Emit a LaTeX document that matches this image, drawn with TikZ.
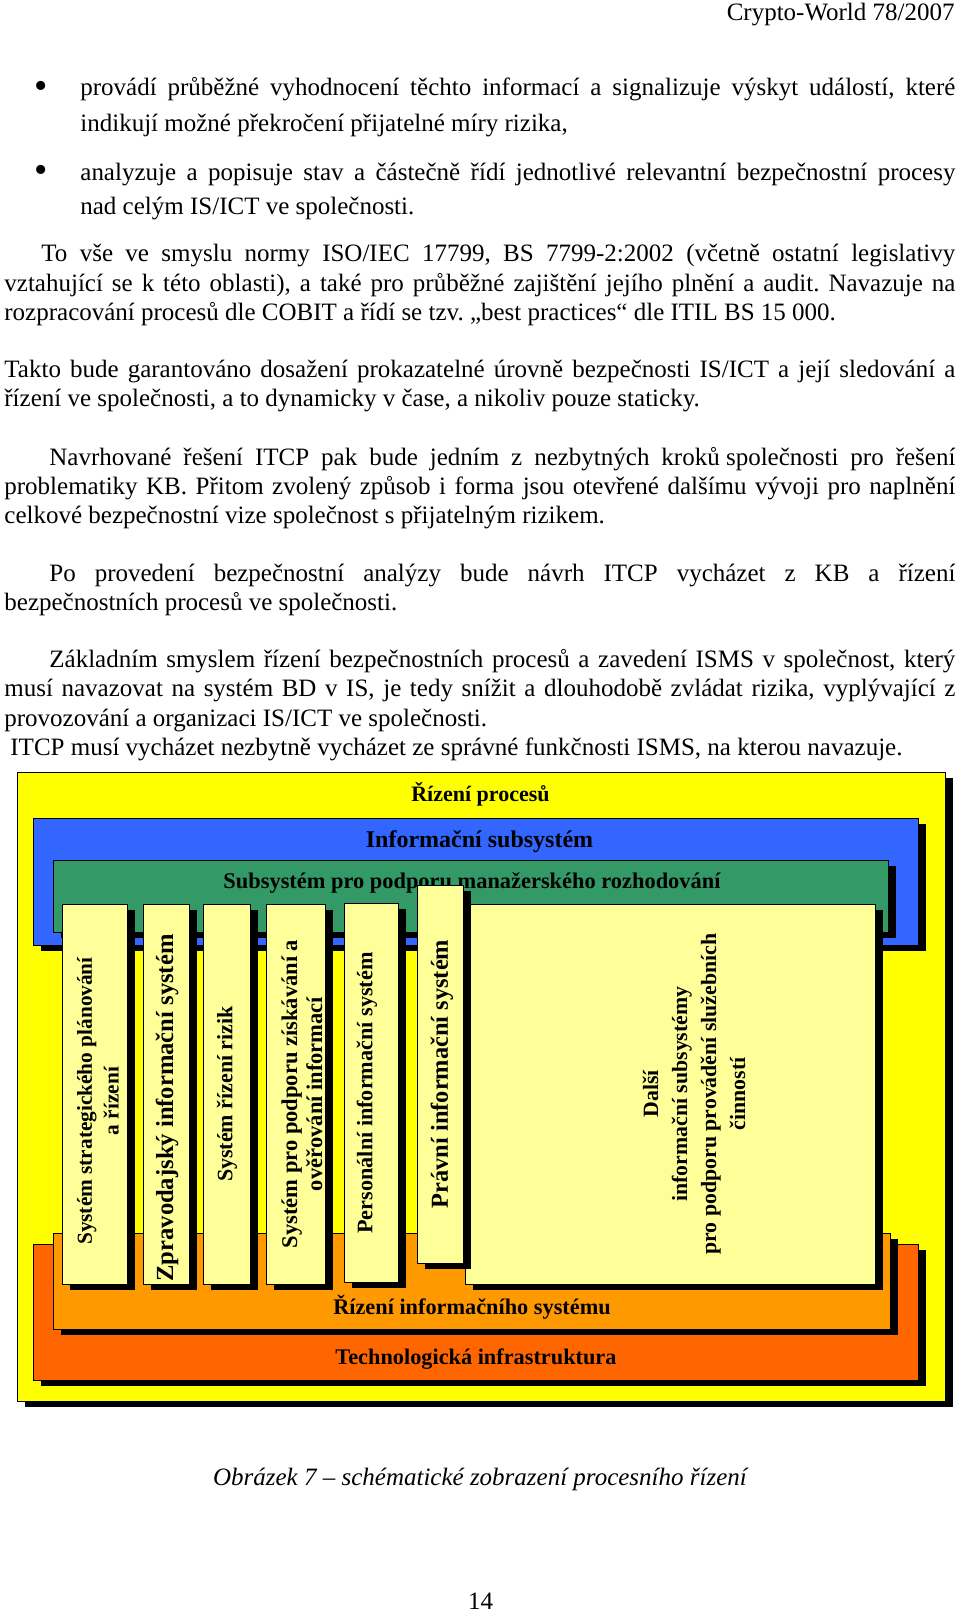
\documentclass[tikz,border=0pt]{standalone}
\usepackage{fontspec}
\setmainfont{Liberation Serif}
\usetikzlibrary{shadows}
\definecolor{cyel}{HTML}{FFFF00}
\definecolor{cblue}{HTML}{3366FF}
\definecolor{cgreen}{HTML}{339966}
\definecolor{clight}{HTML}{FFFF99}
\definecolor{corange}{HTML}{FF9900}
\definecolor{cdorange}{HTML}{FF6600}
\newcommand\jl[2]{\makebox[#1pt][s]{#2}}
\newcommand\bfs[2]{\fontsize{#1pt}{#2pt}\selectfont\bfseries}
\frenchspacing
\begin{document}
\begin{tikzpicture}[x=0.5pt,y=-0.5pt,
  txt/.style={anchor=base west, inner sep=0pt, font=\fontsize{12.5pt}{15pt}\selectfont},
  bul/.style={anchor=base, inner sep=0pt, font=\fontsize{19pt}{19pt}\selectfont},
  sbox/.style={draw=black, line width=0.5pt, inner sep=0pt, anchor=north west,
    drop shadow={shadow xshift=3.5pt, shadow yshift=-2.75pt, opacity=1, fill=black, draw=none}},
  lbl/.style={inner sep=0pt, align=center},
  vlbl/.style={inner sep=0pt, align=center, rotate=90}]
\path[use as bounding box, fill=white] (0,0) rectangle (960,1613);

% header
\node[txt, anchor=base east] (hdr) at (955,20) {Crypto-World 78/2007};

% bullets
\node[bul] (bu1) at (41,98) {\textbullet};
\node[txt] (l1) at (80,95.5) {\jl{437.5}{provádí průběžné vyhodnocení těchto informací a signalizuje výskyt událostí, které}};
\node[txt] (l2) at (80,131.5) {indikují možné překročení přijatelné míry rizika,};
\node[bul] (bu2) at (41,182.5) {\textbullet};
\node[txt] (l3) at (80,180) {\jl{437.5}{analyzuje a popisuje stav a částečně řídí jednotlivé relevantní bezpečnostní procesy}};
\node[txt] (l4) at (80,214) {nad celým IS/ICT ve společnosti.};

% paragraph 1
\node[txt] (p1a) at (41,261) {\jl{457}{To vše ve smyslu normy ISO/IEC 17799, BS 7799-2:2002 (včetně ostatní legislativy}};
\node[txt] (p1b) at (4,291) {\jl{475.5}{vztahující se k této oblasti), a také pro průběžné zajištění jejího plnění a audit. Navazuje na}};
\node[txt] (p1c) at (4,320) {rozpracování procesů dle COBIT a řídí se tzv. „best practices“ dle ITIL BS 15 000.};

% paragraph 2
\node[txt] (p2a) at (4,377.5) {\jl{475.5}{Takto bude garantováno dosažení prokazatelné úrovně bezpečnosti IS/ICT a její sledování a}};
\node[txt] (p2b) at (4,406) {řízení ve společnosti, a to dynamicky v čase, a nikoliv pouze staticky.};

% paragraph 3
\node[txt] (p3a) at (49,465) {\jl{453}{Navrhované řešení ITCP pak bude jedním z nezbytných kroků\hspace{0.25em}společnosti pro řešení}};
\node[txt] (p3b) at (4,494) {\jl{475.5}{problematiky KB. Přitom zvolený způsob i forma jsou otevřené dalšímu vývoji pro naplnění}};
\node[txt] (p3c) at (4,523.5) {celkové bezpečnostní vize společnost s přijatelným rizikem.};

% paragraph 4
\node[txt] (p4a) at (49,581) {\jl{453}{Po provedení bezpečnostní analýzy bude návrh ITCP vycházet z KB a řízení}};
\node[txt] (p4b) at (4,610) {bezpečnostních procesů ve společnosti.};

% paragraph 5
\node[txt] (p5a) at (49,667.5) {\jl{453}{Základním smyslem řízení bezpečnostních procesů a zavedení ISMS v společnost, který}};
\node[txt] (p5b) at (4,696) {\jl{475.5}{musí navazovat na systém BD v IS, je tedy snížit a dlouhodobě zvládat rizika, vyplývající z}};
\node[txt] (p5c) at (4,726) {provozování a organizaci IS/ICT ve společnosti.};
\node[txt] (p6) at (10,755) {ITCP musí vycházet nezbytně vycházet ze správné funkčnosti ISMS, na kterou navazuje.};

% diagram
\node[sbox, fill=cyel, minimum width=464pt, minimum height=314.5pt] (yel) at (17,772) {};
\node[lbl, font=\bfs{11}{13}] (tyel) at (480.5,794) {Řízení procesů};
\node[sbox, fill=cblue, minimum width=442.5pt, minimum height=63.5pt] (blu) at (33,818) {};
\node[lbl, font=\bfs{12}{14}] (tblu) at (479.5,842) {Informační subsystém};
\node[sbox, fill=cgreen, minimum width=417.5pt, minimum height=36pt] (grn) at (53,860) {};
\node[lbl, font=\bfs{11.2}{13}] (tgrn) at (472,883) {Subsystém pro podporu manažerského rozhodování};

\node[sbox, fill=cdorange, minimum width=442.5pt, minimum height=68pt] (dor) at (33,1244) {};
\node[lbl, font=\bfs{11.15}{13}] (tdor) at (476,1359) {Technologická infrastruktura};
\node[sbox, fill=corange, minimum width=418.5pt, minimum height=48pt] (ora) at (53,1233) {};
\node[lbl, font=\bfs{11.15}{13}] (tora) at (472,1307) {Řízení informačního systému};

% columns
\node[sbox, fill=clight, minimum width=32.5pt, minimum height=190pt] (c1) at (62,904) {};
\node[vlbl, font=\bfs{10.65}{13.4}] (c1t) at (98,1101) {Systém strategického plánování\\a řízení};
\node[sbox, fill=clight, minimum width=23pt, minimum height=190pt] (c2) at (143,904) {};
\node[vlbl, font=\bfs{12.3}{14}] (c2t) at (167,1108) {Zpravodajský informační systém};
\node[sbox, fill=clight, minimum width=23.5pt, minimum height=190pt] (c3) at (203,904) {};
\node[vlbl, font=\bfs{11}{13}] (c3t) at (227,1094) {Systém řízení rizik};
\node[sbox, fill=clight, minimum width=29.5pt, minimum height=190pt] (c4) at (266,904) {};
\node[vlbl, font=\bfs{11.25}{12.5}] (c4t) at (302,1094) {Systém pro podporu získávání a\\ověřování informací};
\node[sbox, fill=clight, minimum width=27pt, minimum height=189.5pt] (c5) at (344,903) {};
\node[vlbl, font=\bfs{11.1}{13}] (c5t) at (367,1093) {Personální informační systém};
\node[sbox, fill=clight, minimum width=205pt, minimum height=190pt] (c7) at (465,904) {};
\node[vlbl, font=\bfs{10.9}{14.5}] (c7t) at (694,1094) {Další\\informační subsystémy\\pro podporu provádění služebních\\činností};
\node[sbox, fill=clight, minimum width=23pt, minimum height=189pt] (c6) at (417,885) {};
\node[vlbl, font=\bfs{12.2}{14}] (c6t) at (442,1074) {Právní informační systém};

% caption
\node[txt, anchor=base, font=\fontsize{12.5}{15}\selectfont\itshape] (cap) at (480,1485) {Obrázek 7 – schématické zobrazení procesního řízení};
\node[txt, anchor=base] (pg) at (480.5,1609) {14};
\end{tikzpicture}
\end{document}
